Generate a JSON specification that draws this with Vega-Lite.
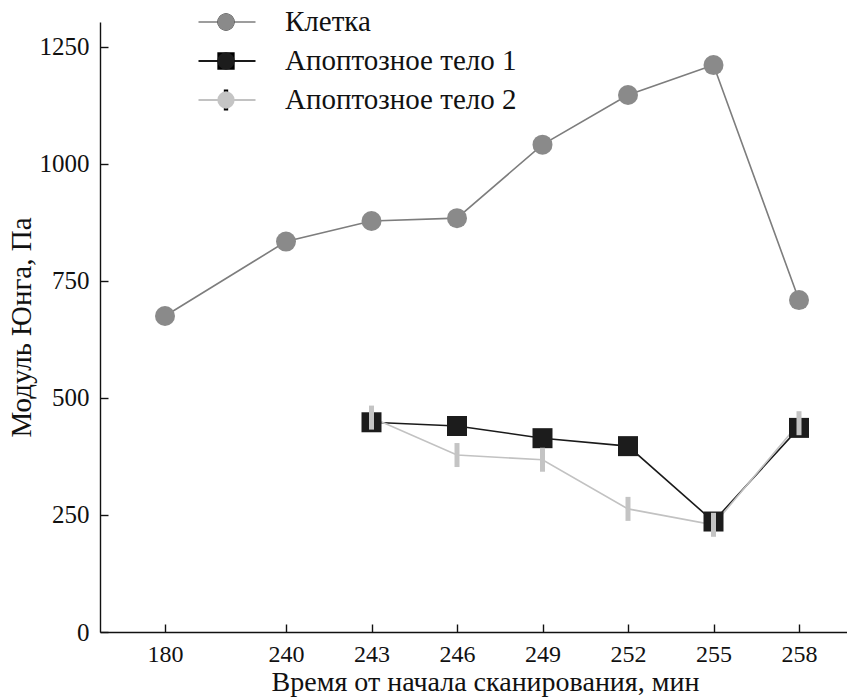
{
  "$schema": "https://vega.github.io/schema/vega-lite/v6.json",
  "width": 747,
  "height": 610,
  "autosize": {"type": "none"},
  "padding": {"left": 100, "top": 22, "right": 0, "bottom": 68},
  "background": "white",
  "config": {
    "view": {"stroke": null}
  },
  "data": {
    "values": [
      {"t": 180, "v": 675, "series": "Клетка"},
      {"t": 240, "v": 834, "series": "Клетка"},
      {"t": 243, "v": 878, "series": "Клетка"},
      {"t": 246, "v": 884, "series": "Клетка"},
      {"t": 249, "v": 1041, "series": "Клетка"},
      {"t": 252, "v": 1147, "series": "Клетка"},
      {"t": 255, "v": 1211, "series": "Клетка"},
      {"t": 258, "v": 709, "series": "Клетка"},
      {"t": 243, "v": 448, "series": "Апоптозное тело 1"},
      {"t": 246, "v": 440, "series": "Апоптозное тело 1"},
      {"t": 249, "v": 414, "series": "Апоптозное тело 1"},
      {"t": 252, "v": 397, "series": "Апоптозное тело 1"},
      {"t": 255, "v": 236, "series": "Апоптозное тело 1"},
      {"t": 258, "v": 436, "series": "Апоптозное тело 1"},
      {"t": 243, "v": 458, "series": "Апоптозное тело 2"},
      {"t": 246, "v": 378, "series": "Апоптозное тело 2"},
      {"t": 249, "v": 368, "series": "Апоптозное тело 2"},
      {"t": 252, "v": 263, "series": "Апоптозное тело 2"},
      {"t": 255, "v": 229, "series": "Апоптозное тело 2"},
      {"t": 258, "v": 446, "series": "Апоптозное тело 2"}
    ]
  },
  "encoding": {
    "x": {
      "field": "t",
      "type": "quantitative",
      "scale": {
        "domain": [170, 180, 240, 258, 259.68],
        "range": [0, 65, 186, 699, 747],
        "nice": false,
        "zero": false
      },
      "axis": {
        "values": [180, 240, 243, 246, 249, 252, 255, 258],
        "format": "d",
        "title": "Время от начала сканирования, мин",
        "titlePadding": 2,
        "titleX": 385,
        "labelFont": "Liberation Serif, Times New Roman, serif",
        "labelFontSize": 24,
        "labelColor": "#111111",
        "titleFont": "Liberation Serif, Times New Roman, serif",
        "titleFontSize": 28,
        "titleFontWeight": "normal",
        "titleColor": "#111111",
        "domainColor": "#111111",
        "domainWidth": 1.4,
        "tickColor": "#111111",
        "tickWidth": 1.4,
        "tickSize": -8,
        "labelPadding": 18,
        "grid": false,
        "labelFlush": false,
        "labelOverlap": false
      }
    },
    "y": {
      "field": "v",
      "type": "quantitative",
      "scale": {"domain": [0, 1303], "nice": false, "zero": true},
      "axis": {
        "values": [0, 250, 500, 750, 1000, 1250],
        "format": "d",
        "title": "Модуль Юнга, Па",
        "titlePadding": 3,
        "labelFont": "Liberation Serif, Times New Roman, serif",
        "labelFontSize": 25,
        "labelColor": "#111111",
        "titleFont": "Liberation Serif, Times New Roman, serif",
        "titleFontSize": 29,
        "titleFontWeight": "normal",
        "titleColor": "#111111",
        "domainColor": "#111111",
        "domainWidth": 1.4,
        "tickColor": "#111111",
        "tickWidth": 1.4,
        "tickSize": -8,
        "labelPadding": 19,
        "grid": false,
        "labelFlush": false,
        "labelOverlap": false
      }
    }
  },
  "layer": [
    {
      "mark": {"type": "line", "strokeWidth": 1.6},
      "encoding": {
        "stroke": {
          "field": "series",
          "type": "nominal",
          "scale": {
            "domain": ["Клетка", "Апоптозное тело 1", "Апоптозное тело 2"],
            "range": ["#7d7d7d", "#1a1a1a", "#c2c2c2"]
          },
          "legend": {
            "title": null,
            "orient": "none",
            "legendX": 97,
            "legendY": -19.5,
            "padding": 0,
            "rowPadding": 0,
            "clipHeight": 39,
            "symbolType": "stroke",
            "symbolSize": 3249,
            "symbolStrokeWidth": 1.6,
            "symbolOpacity": 1,
            "labelOffset": 28,
            "labelLimit": 400,
            "labelFont": "Liberation Serif, Times New Roman, serif",
            "labelFontSize": 29,
            "labelColor": "#111111"
          }
        },
        "strokeWidth": {
          "field": "series",
          "type": "nominal",
          "scale": {
            "domain": ["Клетка", "Апоптозное тело 1", "Апоптозное тело 2"],
            "range": [1.6, 2.2, 1.6]
          },
          "legend": null
        }
      }
    },
    {
      "mark": {"type": "point", "filled": true, "opacity": 1, "size": 400, "strokeWidth": 0},
      "encoding": {
        "fill": {
          "field": "series",
          "type": "nominal",
          "sort": ["Клетка", "Апоптозное тело 1", "Апоптозное тело 2"],
          "scale": {"range": ["#8a8a8a", "#1c1c1c", "#c4c4c4"]},
          "legend": {
            "title": null,
            "orient": "none",
            "legendX": 117,
            "legendY": -19.5,
            "padding": 0,
            "rowPadding": 0,
            "clipHeight": 39,
            "symbolSize": 300,
            "symbolOpacity": 1,
            "symbolStrokeWidth": 0,
            "labelExpr": "''"
          }
        },
        "shape": {
          "field": "series",
          "type": "nominal",
          "sort": ["Клетка", "Апоптозное тело 1", "Апоптозное тело 2"],
          "scale": {"range": ["circle", "square", "M-0.25,-1.2L0.25,-1.2L0.25,1.2L-0.25,1.2Z"]},
          "legend": {
            "title": null,
            "orient": "none",
            "legendX": 117,
            "legendY": -19.5,
            "padding": 0,
            "rowPadding": 0,
            "clipHeight": 39,
            "symbolSize": 300,
            "symbolOpacity": 1,
            "symbolStrokeWidth": 0,
            "labelExpr": "''"
          }
        }
      }
    },
    {
      "data": {"values": [{}]},
      "mark": {"type": "rule", "color": "white", "strokeWidth": 5},
      "encoding": {
        "x": {"datum": 211.5, "type": "quantitative"},
        "x2": {"datum": 217.5},
        "y": {"datum": 0, "type": "quantitative"}
      }
    },
    {
      "data": {"values": [{}]},
      "mark": {"type": "text", "text": "//", "fontSize": 17, "font": "Liberation Serif, Times New Roman, serif", "color": "#111111", "baseline": "middle", "align": "center"},
      "encoding": {
        "x": {"datum": 214.5, "type": "quantitative"},
        "y": {"datum": 0, "type": "quantitative"}
      }
    }
  ]
}
